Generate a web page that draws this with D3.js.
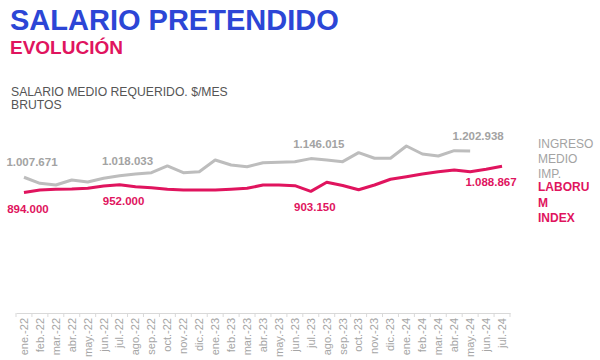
<!DOCTYPE html>
<html>
<head>
<meta charset="utf-8">
<script src="https://cdn.jsdelivr.net/npm/d3@7"></script>
<style>
  html, body { margin: 0; padding: 0; background: #fff; }
  svg { display: block; font-family: "Liberation Sans", Arial, sans-serif; }
</style>
</head>
<body>
<svg id="chart" width="600" height="360"></svg>
<script>
const months = ["ene.-22","feb.-22","mar.-22","abr.-22","may.-22","jun.-22","jul.-22","ago.-22","sep.-22","oct.-22","nov.-22","dic.-22",
  "ene.-23","feb.-23","mar.-23","abr.-23","may.-23","jun.-23","jul.-23","ago.-23","sep.-23","oct.-23","nov.-23","dic.-23",
  "ene.-24","feb.-24","mar.-24","abr.-24","may.-24","jun.-24","jul.-24"];

const ingresoMedio = [1007671, 962900, 950300, 987400, 972500, 1000000, 1018033, 1031900, 1041600, 1091300, 1041600, 1049000,
  1135900, 1098800, 1086100, 1115800, 1118800, 1123300, 1146015, 1135900, 1123300, 1190100, 1148500, 1148500,
  1239800, 1180400, 1165600, 1204900, 1202938];

const laborumIndex = [894000, 913200, 918300, 920600, 925800, 942800, 952000, 937700, 930200, 918300, 913200, 913200,
  913200, 918300, 925800, 950300, 950300, 945100, 903150, 970300, 946600, 914600, 950300, 992600,
  1011900, 1031900, 1049000, 1061600, 1049000, 1066800, 1088867];

// labelled points: [index, text]
const grayLabels = [[0, "1.007.671"], [6, "1.018.033"], [18, "1.146.015"], [28, "1.202.938"]];
const pinkLabels = [[0, "894.000"], [6, "952.000"], [18, "903.150"], [30, "1.088.867"]];

const title = "SALARIO PRETENDIDO";
const subtitle = "EVOLUCIÓN";
const axisTitle = ["SALARIO MEDIO REQUERIDO. $/MES", "BRUTOS"];
const legendGray = ["INGRESO", "MEDIO", "IMP."];
const legendPink = ["LABORU", "M", "INDEX"];

const GRAY = "#bdbdbd", GRAY_TXT = "#a3a3a3", PINK = "#e0145e", BLUE = "#2c46d6";

const svg = d3.select("#chart");

const x = d3.scaleBand().domain(months).range([16, 510]).padding(0);
const y = d3.scaleLinear().domain([0, 1400000]).range([313, 124.4]);
const cx = d => x(d) + x.bandwidth() / 2;

// Titles
svg.append("text").attr("x", 10).attr("y", 30).attr("fill", BLUE)
  .attr("font-size", 29).attr("font-weight", "bold").text(title);
svg.append("text").attr("x", 10).attr("y", 54).attr("fill", PINK)
  .attr("font-size", 19).attr("font-weight", "bold").text(subtitle);
axisTitle.forEach((t, i) => {
  svg.append("text").attr("x", 11).attr("y", 96 + i * 13).attr("fill", "#555")
    .attr("font-size", 12.2).text(t);
});

// Axis
const axisG = svg.append("g").attr("transform", "translate(0,313)");
axisG.call(d3.axisBottom(x).tickSize(0).tickPadding(0));
axisG.select(".domain").attr("stroke", "#d9d9d9").attr("stroke-width", 1);
axisG.selectAll(".tick text")
  .attr("transform", "rotate(-90)")
  .attr("text-anchor", "end")
  .attr("x", -5).attr("y", 0).attr("dy", "0.35em")
  .attr("fill", "#a5a5a5").attr("font-size", 11)
  .attr("font-family", "Liberation Sans, Arial, sans-serif");
const bounds = months.map(m => x(m)).concat([x.range()[1]]);
axisG.selectAll("line.bt").data(bounds).enter().append("line").attr("class", "bt")
  .attr("x1", d => d).attr("x2", d => d).attr("y1", 0).attr("y2", 4)
  .attr("stroke", "#d9d9d9");

// Lines
const line = d3.line().x((d, i) => cx(months[i])).y(d => y(d));
svg.append("path").datum(ingresoMedio).attr("d", line)
  .attr("fill", "none").attr("stroke", GRAY).attr("stroke-width", 3).attr("stroke-linejoin", "round");
svg.append("path").datum(laborumIndex).attr("d", line)
  .attr("fill", "none").attr("stroke", PINK).attr("stroke-width", 3).attr("stroke-linejoin", "round");

// Data labels
grayLabels.forEach(([i, t]) => {
  svg.append("text").attr("x", cx(months[i]) + 8).attr("y", y(ingresoMedio[i]) - 11)
    .attr("text-anchor", "middle").attr("fill", GRAY_TXT).attr("font-weight", "bold")
    .attr("font-size", 11.5).text(t);
});
pinkLabels.forEach(([i, t]) => {
  const off = i === 30 ? [-11, 20] : [4, 20];
  svg.append("text").attr("x", cx(months[i]) + off[0]).attr("y", y(laborumIndex[i]) + off[1])
    .attr("text-anchor", "middle").attr("fill", PINK).attr("font-weight", "bold")
    .attr("font-size", 11.5).text(t);
});

// Legend
legendGray.forEach((t, i) => {
  svg.append("text").attr("x", 538).attr("y", 148 + i * 14.8).attr("fill", GRAY_TXT)
    .attr("font-size", 12).text(t);
});
legendPink.forEach((t, i) => {
  svg.append("text").attr("x", 538).attr("y", 191 + i * 15.5).attr("fill", PINK)
    .attr("font-weight", "bold").attr("font-size", 12).text(t);
});
</script>
</body>
</html>
